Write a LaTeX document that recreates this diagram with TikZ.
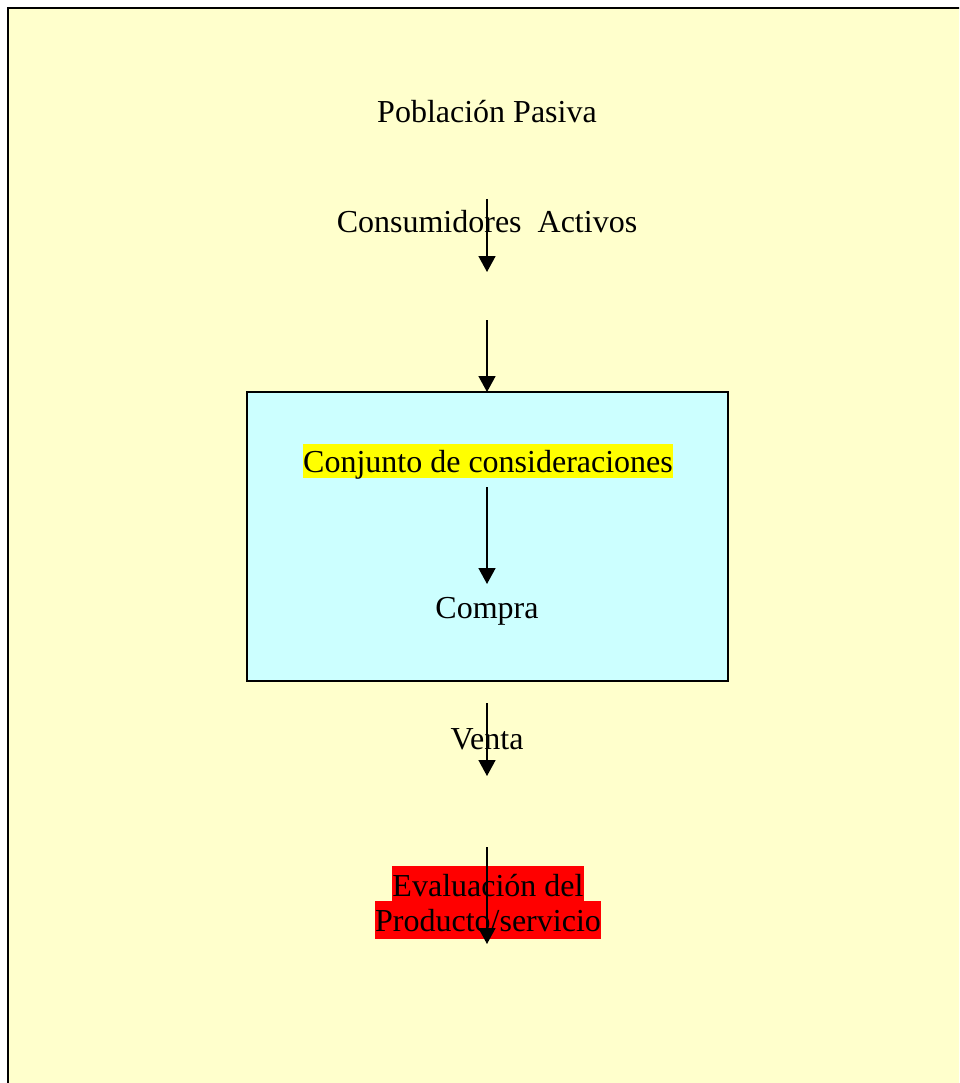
\documentclass[tikz,border=0pt]{standalone}
\usepackage{fontspec}
\setmainfont{Liberation Serif}
\usetikzlibrary{arrows.meta}
\definecolor{paleyellow}{HTML}{FFFFCC}
\definecolor{palecyan}{HTML}{CCFFFF}
\definecolor{hiyellow}{HTML}{FFFF00}
\definecolor{hired}{HTML}{FF0000}
\tikzset{
  lbl/.style={font=\fontsize{32}{36}\selectfont, inner sep=0pt, text height=25pt, text depth=9pt},
  conn/.style={line width=1.6pt, -{Triangle[width=17pt,length=16pt]}},
}
\begin{document}
\begin{tikzpicture}[x=1pt,y=-1pt]
\useasboundingbox (0,0) rectangle (959,1083);
\fill[white] (0,0) rectangle (959,1083);
\begin{scope}
\clip (0,0) rectangle (959,1083);
\draw[fill=paleyellow, line width=2pt] (8,8) rectangle (975,1100);
\end{scope}
\draw[fill=palecyan, line width=1.8pt] (247,392) rectangle (728,681);

\node[lbl] (pob) at (487,115) {Población Pasiva};
\node[lbl] (cons) at (487,225) {Consumidores\ \ Activos};
\node[lbl, fill=hiyellow, text height=28pt, text depth=6pt] (conj) at (488,461) {Conjunto de consideraciones};
\node[lbl] (comp) at (487,610) {Compra};
\node[lbl] (vent) at (487,741) {Venta};
\node[lbl, fill=hired, text depth=5pt, text height=30pt] (ev1) at (488,883.5) {Evaluación del};
\node[lbl, fill=hired, text depth=8pt, text height=30pt] (ev2) at (488,920) {Producto/servicio};

\coordinate (a1s) at (487,199); \coordinate (a1e) at (487,272);
\coordinate (a2s) at (487,320); \coordinate (a2e) at (487,392);
\coordinate (a3s) at (487,487); \coordinate (a3e) at (487,584);
\coordinate (a4s) at (487,703); \coordinate (a4e) at (487,776);
\coordinate (a5s) at (487,847); \coordinate (a5e) at (487,944);
\draw[conn] (a1s) -- (a1e);
\draw[conn] (a2s) -- (a2e);
\draw[conn] (a3s) -- (a3e);
\draw[conn] (a4s) -- (a4e);
\draw[conn] (a5s) -- (a5e);
\end{tikzpicture}
\end{document}
